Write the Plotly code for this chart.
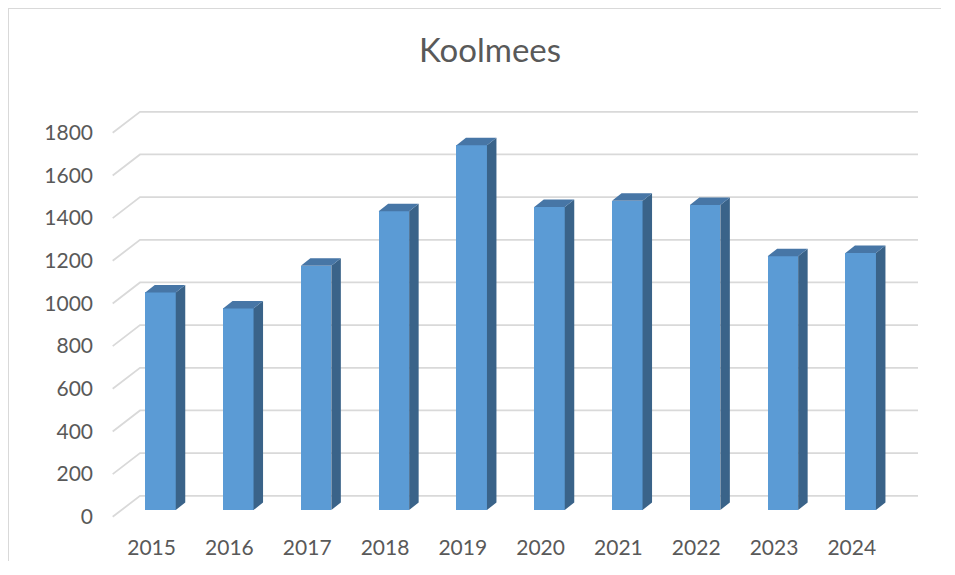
import plotly.graph_objects as go

# ---- data ----
years = ["2015", "2016", "2017", "2018", "2019", "2020", "2021", "2022", "2023", "2024"]
counts = [1020, 945, 1145, 1400, 1710, 1420, 1450, 1430, 1190, 1205]
y_ticks = [0, 200, 400, 600, 800, 1000, 1200, 1400, 1600, 1800]
title_text = "Koolmees"

# ---- geometry / style (pixel based, page body margin of 8px compensated) ----
OFF = 8
W, H = 955 - 2 * OFF - 6, 575 - 2 * OFF - 6
ML, MR, MT = 86, 0, 0
MB = H - 525
PLOT_W = W - ML - MR
PLOT_H = H - MT - MB
PX_PER_CAT = 77.8
PX_PER_VAL = 384 / 1800.0
CAT0_PX = 160.5 - OFF    # pixel x of first bar front centre
BASE_PX = 510 - OFF      # pixel y of bar front base

ux = 1.0 / PX_PER_CAT
uy = 1.0 / PX_PER_VAL

FRONT_DX, FRONT_DY = -8.9 * ux, -6.8 * uy
BACK_DX, BACK_DY = 18.4 * ux, 14.2 * uy
SIDE_DX, SIDE_DY = 9.5 * ux, 7.5 * uy
BAR_W = 30.5 * ux

x0 = -(CAT0_PX - ML) * ux
x1 = x0 + PLOT_W * ux
y0 = -(MT + PLOT_H - BASE_PX) * uy
y1 = y0 + PLOT_H * uy

FRONT = "#5B9BD5"
SIDE = "#3A6389"
TOP = "#4776A6"
GRID = "#D9D9D9"
TXT = "#595959"
FONT = "Lato"

n = len(years)
xs = list(range(n))
L, R = -0.5, n - 0.5

fig = go.Figure()

fig.add_trace(go.Bar(x=xs, y=counts, width=BAR_W, marker=dict(color=FRONT, line=dict(width=0)),
                     hoverinfo="skip", showlegend=False))

sx, sy, tx, ty = [], [], [], []
for i, v in zip(xs, counts):
    r = i + BAR_W / 2
    l = i - BAR_W / 2
    sx += [r, r + SIDE_DX, r + SIDE_DX, r, r, None]
    sy += [0, SIDE_DY, v + SIDE_DY, v, 0, None]
    tx += [l, r, r + SIDE_DX, l + SIDE_DX, l, None]
    ty += [v, v, v + SIDE_DY, v + SIDE_DY, v, None]

fig.add_trace(go.Scatter(x=sx, y=sy, mode="lines", fill="toself", fillcolor=SIDE,
                         line=dict(width=0, color=SIDE), hoverinfo="skip", showlegend=False))
fig.add_trace(go.Scatter(x=tx, y=ty, mode="lines", fill="toself", fillcolor=TOP,
                         line=dict(width=0, color=TOP), hoverinfo="skip", showlegend=False))

shapes = []
for t in y_ticks:
    path = (f"M {L + FRONT_DX},{t + FRONT_DY} L {L + BACK_DX},{t + BACK_DY} "
            f"L {R + BACK_DX},{t + BACK_DY}")
    shapes.append(dict(type="path", path=path, xref="x", yref="y", layer="below",
                       line=dict(color=GRID, width=1.8)))


def px_x(p):
    return (p - ML) / PLOT_W


def px_y(p):
    return 1 - (p - MT) / PLOT_H


# chart area border (top and left edges visible)
shapes.append(dict(type="line", xref="paper", yref="paper", x0=px_x(0), x1=px_x(W + 5),
                   y0=px_y(0), y1=px_y(0), line=dict(color=GRID, width=2)))
shapes.append(dict(type="line", xref="paper", yref="paper", x0=px_x(0), x1=px_x(0),
                   y0=px_y(0), y1=px_y(H + 5), line=dict(color=GRID, width=2)))

fig.update_layout(
    width=W, height=H,
    margin=dict(l=ML, r=MR, t=MT, b=MB),
    paper_bgcolor="white", plot_bgcolor="white",
    shapes=shapes,
    title=dict(text=title_text, x=(490 - OFF) / W, xanchor="center", y=1 - (50 - OFF) / H,
               yanchor="middle", yref="container", xref="container",
               font=dict(family=FONT, size=33, color=TXT)),
    xaxis=dict(range=[x0, x1], showgrid=False, zeroline=False, showline=False,
               tickmode="array", tickvals=[i + FRONT_DX for i in xs], ticktext=years,
               ticks="", tickfont=dict(family=FONT, size=21, color=TXT)),
    yaxis=dict(range=[y0, y1], showgrid=False, zeroline=False, showline=False,
               tickmode="array", tickvals=[t + FRONT_DY for t in y_ticks],
               ticktext=[str(t) for t in y_ticks],
               ticks="", tickfont=dict(family=FONT, size=21, color=TXT)),
    bargap=0,
)

fig.write_html("out.html")
